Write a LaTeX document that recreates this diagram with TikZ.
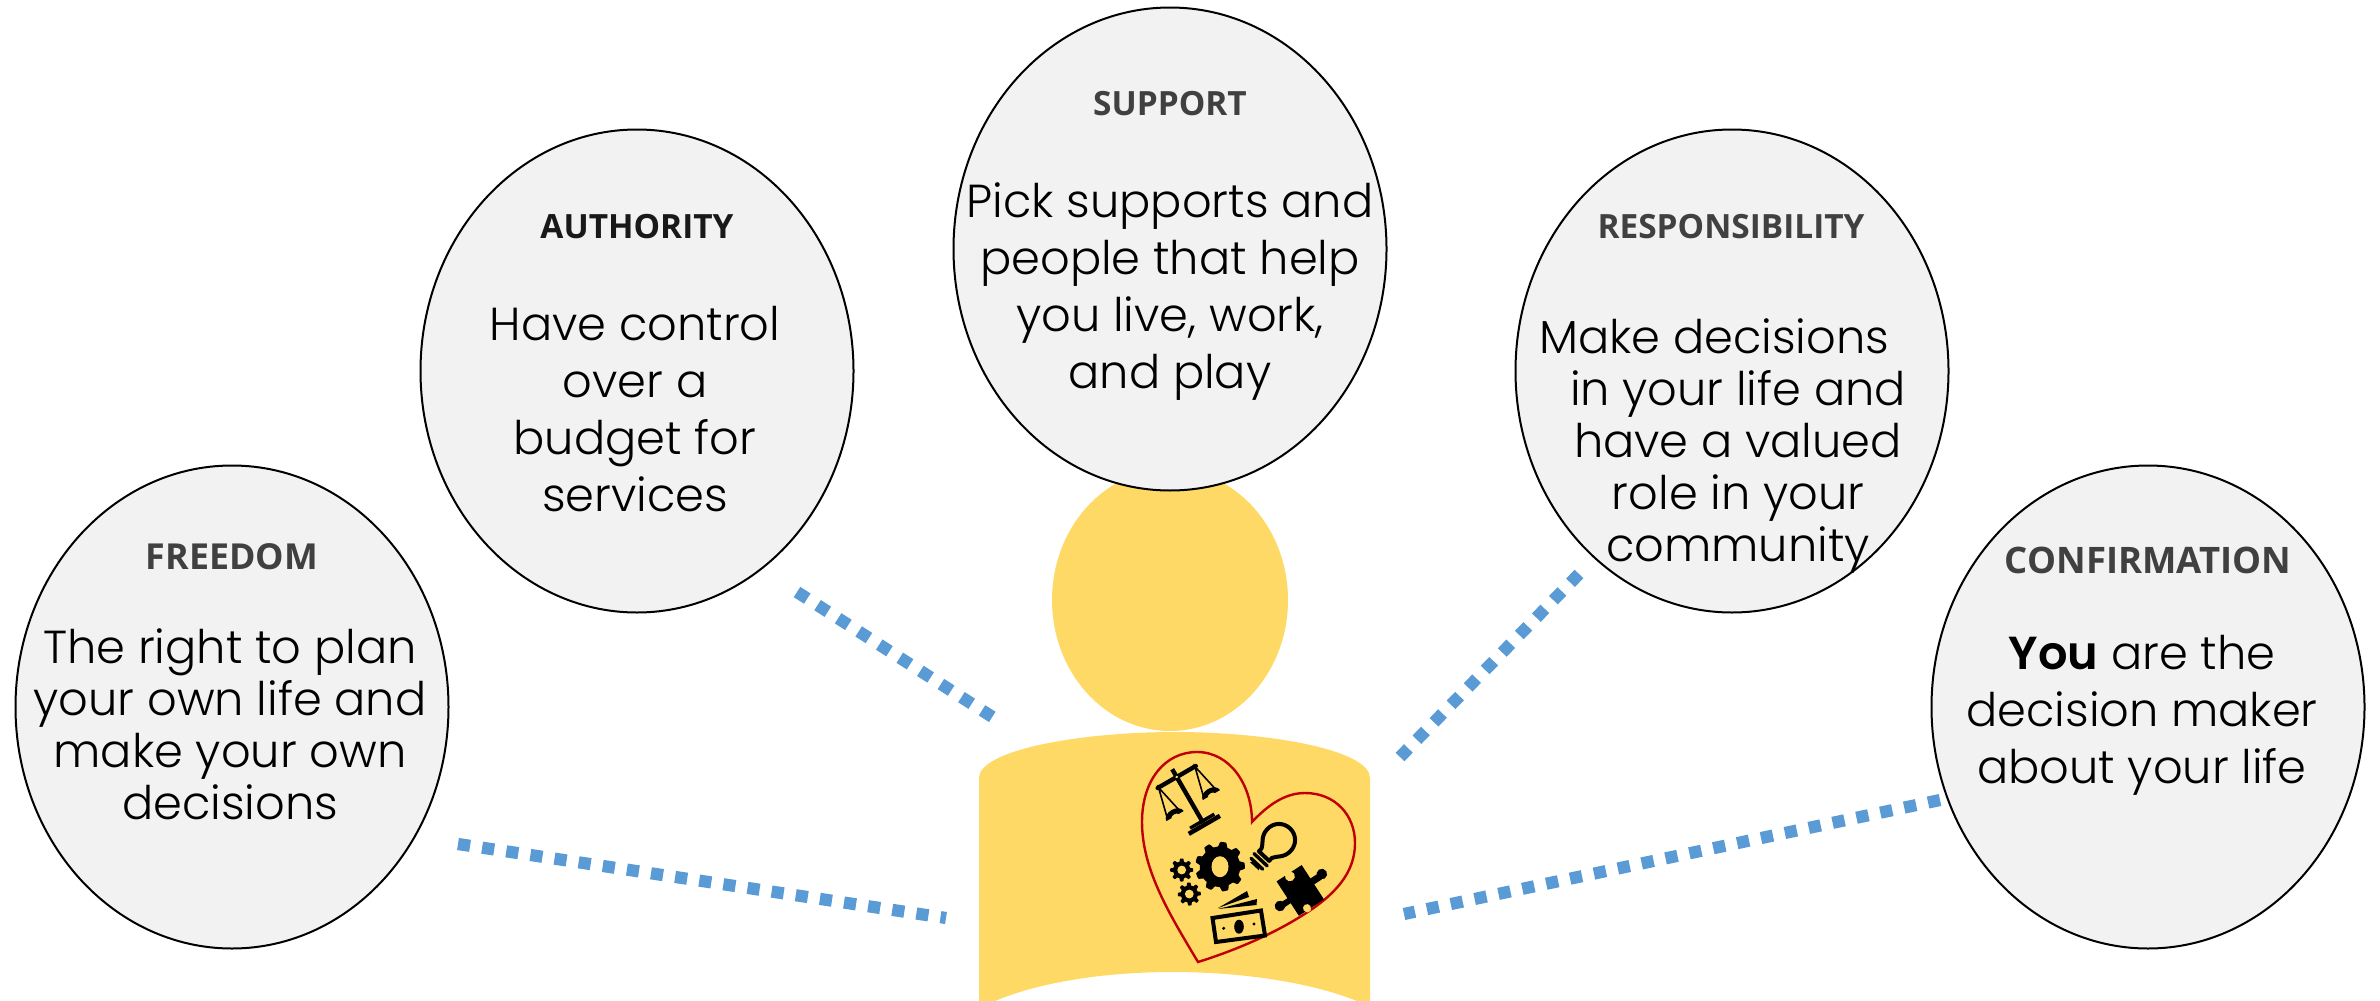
\documentclass[tikz,border=0pt]{standalone}
\usepackage{fontspec}
\setmainfont{Poppins Light}[BoldFont=Poppins SemiBold]
\newfontfamily\headf{Open Sans}[BoldFont=Open Sans Bold]
\usetikzlibrary{shapes.geometric}
\definecolor{bodyyellow}{HTML}{FFD966}
\definecolor{bubblefill}{HTML}{F2F2F2}
\definecolor{linkblue}{HTML}{5B9BD5}
\definecolor{heartred}{HTML}{C00000}
\definecolor{headgrey}{HTML}{404040}
\newcommand{\mygear}[6]{% x,y,R,A,N,phase
  \begin{scope}[shift={(#1,#2)}]
  \fill[black] plot[domain=0:360,samples=181] (\x:{#3+#4*max(-1,min(1,2.2*cos(#5*\x+#6)))}) -- cycle;
  \end{scope}}
\tikzset{
  bubble/.style={ellipse,draw=black,line width=2pt,fill=bubblefill,minimum width=433pt,minimum height=483pt,inner sep=0pt},
  headtext/.style={font=\headf\bfseries\fontsize{33.4}{42}\selectfont,text=headgrey,inner sep=0pt,anchor=center},
  headwide/.style={headtext,font=\headf\bfseries\fontsize{35.8}{42}\selectfont},
  bodytext/.style={font=\fontsize{46.3}{57}\selectfont,text=black,align=center,inner sep=0pt,anchor=north},
  bodytight/.style={bodytext,font=\fontsize{46.3}{52}\selectfont},
  link/.style={draw=linkblue,line width=12.2pt,dash pattern=on 12.2pt off 12.2pt},
  icon/.style={line width=3.4pt,draw=black,line cap=butt}
}
\begin{document}
\begin{tikzpicture}[x=1pt,y=-1pt]
\useasboundingbox (0,0) rectangle (2380,1001);
% person
\node[ellipse,fill=bodyyellow,minimum width=236pt,minimum height=262pt,inner sep=0pt] (head) at (1170,600) {};
\fill[bodyyellow] (979,1001) -- (979,778) .. controls (979,750) and (1080,732) .. (1175,732)
  .. controls (1270,732) and (1370,750) .. (1370,778) -- (1370,1001) -- (1357,1001)
  .. controls (1310,982) and (1240,972) .. (1173,972) .. controls (1105,972) and (1040,982) .. (995,1001) -- cycle;
% bubbles
\node[bubble] (freedom) at (232,707) {};
\node[bubble] (authority) at (637,371) {};
\node[bubble] (support) at (1170,249) {};
\node[bubble] (responsibility) at (1732,371) {};
\node[bubble] (confirmation) at (2148,707) {};
% headings
\node[headwide] (hfreedom) at (232,557) {FREEDOM};
\node[headtext,text=black!90] (hauthority) at (637,227) {AUTHORITY};
\node[headtext] (hsupport) at (1170,104) {SUPPORT};
\node[headtext] (hresp) at (1731,227) {RESPONSIBILITY};
\node[headwide,font=\headf\bfseries\fontsize{36.5}{42}\selectfont] (hconf) at (2148,560) {CONFIRMATION};
% body
\node[bodytight] (tfreedom) at (230,628) {The right to plan\\your own life and\\make your own\\decisions};
\node[bodytext] (tauthority) at (635,306.5) {Have control\\over a\\budget for\\services};
\node[bodytext] (tsupport) at (1170,182) {Pick supports and\\people that help\\you live, work,\\and play};
\node[bodytight] (tresp) at (1738,318) {Make decisions\hspace*{48pt}\\in your life and\\have a valued\\role in your\\community};
\node[bodytext] (tconf) at (2142,635) {\textbf{You} are the\\decision maker\\about your life};
% connectors
\coordinate (a1) at (458,844); \coordinate (a2) at (946,918);
\coordinate (b1) at (797,592); \coordinate (b2) at (994,718);
\coordinate (c1) at (1579,574); \coordinate (c2) at (1400,757);
\coordinate (d1) at (1940,800); \coordinate (d2) at (1404,914);
\draw[link] (a1) -- (a2);
\draw[link] (b1) -- (b2);
\draw[link] (c1) -- (c2);
\draw[link] (d1) -- (d2);
% heart
\draw[heartred,line width=2.4pt,line join=miter] (1198,962) .. controls (1170,915) and (1142,870) .. (1142,822)
  .. controls (1142,780) and (1165,752) .. (1197,752)
  .. controls (1230,752) and (1252,785) .. (1252,822)
  .. controls (1268,805) and (1285,793) .. (1305,793)
  .. controls (1335,793) and (1355,815) .. (1355,843)
  .. controls (1355,873) and (1335,895) .. (1303,915)
  .. controls (1270,936) and (1230,952) .. (1198,962) -- cycle;
% scales
\begin{scope}[shift={(1176.7,777)},rotate=30]
  \draw[icon,line width=4.4pt,line cap=round] (-22,0) -- (22,0);
  \draw[icon,line width=4.4pt] (0,-9) -- (0,53);
  \fill[bodyyellow] (0,0) circle (1.4);
  \draw[icon,line width=3.4pt] (-14,51) -- (14,51);
  \fill[black] (-18,53) rectangle (18,57.5);
  \draw[icon,line width=1.6pt] (-29,32) -- (-21,0) -- (-14,32);
  \draw[icon,line width=1.6pt] (13,32) -- (21,0) -- (28,32);
  \fill[black] (-31,33) arc[start angle=180,end angle=360,x radius=10,y radius=7] -- (-17,33) arc[start angle=0,end angle=-180,x radius=4,y radius=2] -- cycle;
  \fill[black] (11,33) arc[start angle=180,end angle=360,x radius=10,y radius=7] -- (25,33) arc[start angle=0,end angle=-180,x radius=4,y radius=2] -- cycle;
\end{scope}
% gears
\mygear{1220}{866.7}{22.5}{2.3}{9}{20}
\fill[bodyyellow] (1220,866.7) ellipse (8.5 and 10.5);
\mygear{1181.7}{870}{10}{1.5}{8}{0}
\fill[bodyyellow] (1181.7,870) circle (4.4);
\mygear{1189.3}{894}{10}{1.5}{8}{20}
\fill[bodyyellow] (1189.3,894) circle (4.4);
% bulb
\begin{scope}[shift={(1279,840)},rotate=-43]
  \draw[black,line width=4pt,line join=round] (-7,22) -- (-7,18) .. controls (-9,13) and (-16,10) .. (-16,0)
    .. controls (-16,-9) and (-9,-16) .. (0,-16) .. controls (9,-16) and (16,-9) .. (16,0)
    .. controls (16,10) and (9,13) .. (7,18) -- (7,22) -- cycle;
  \draw[black,line width=3.4pt,line cap=round] (-9,27) -- (9,27) (-8,32.5) -- (8,32.5);
  \fill[black] (-6,36) -- (6,36) arc[start angle=0,end angle=180,x radius=6,y radius=-3.5] -- cycle;
\end{scope}
% puzzle
\begin{scope}[shift={(1300,890)},rotate=33]
  \fill[black] (-15,-20) rectangle (15,21);
  \fill[black] (12,-4) rectangle (24,3);
  \fill[black] (27,-1.5) circle (5.3);
  \fill[black] (-24,0) rectangle (-12,6);
  \fill[black] (-25.5,2.5) circle (5.3);
  \fill[bodyyellow] (-1,-17) circle (5);
  \fill[bodyyellow] (-3,-22) rectangle (1,-16);
  \fill[bodyyellow] (-4,19) circle (4);
  \fill[bodyyellow] (-6,19) rectangle (-2,23);
\end{scope}
% money
\draw[black,line width=4pt,line join=miter] (1212.5,918) -- (1261,910.5) -- (1265,935.5) -- (1216,942) -- cycle;
\fill[black] (1239,926.7) ellipse (4.8 and 7);
\fill[black] (1223.7,928.3) circle (1.7);
\fill[black] (1254,924) circle (1.7);
\fill[black] (1218,909) -- (1257,899) -- (1256.5,905) -- cycle;
\fill[black] (1218,908) -- (1247,891) -- (1249,897) -- cycle;
\end{tikzpicture}
\end{document}
